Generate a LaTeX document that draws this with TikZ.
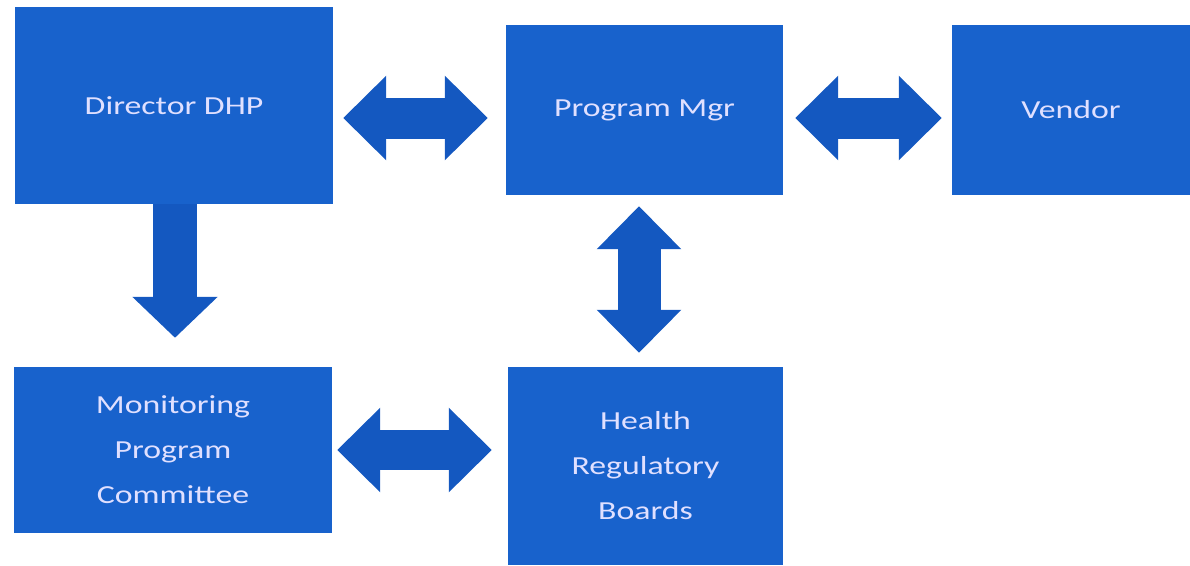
\documentclass[tikz,border=0pt]{standalone}
\usepackage{fontspec}
\setmainfont{Carlito}[FakeStretch=1.3]
\usetikzlibrary{arrows.meta}
\definecolor{boxblue}{RGB}{24,98,204}
\definecolor{arrowblue}{RGB}{20,88,192}
\begin{document}
\begin{tikzpicture}[x=1pt,y=-1pt]
		\tikzstyle{unit}=[rectangle,fill=boxblue,text=white!88!blue,align=center,inner sep=0pt,font=\fontsize{26}{45}\selectfont]
		\tikzstyle{link}=[draw=arrowblue,line width=41pt,{Triangle[length=43pt,width=82pt]}-{Triangle[length=43pt,width=82pt]}]
		\tikzstyle{flow}=[draw=arrowblue,line width=44pt,-{Triangle[length=41pt,width=83pt]}]
		\useasboundingbox (0,0) rectangle (1190,565);
		\node[unit,minimum width=318pt,minimum height=197pt] (director) at (174,105.5) {Director DHP};
		\node[unit,minimum width=277pt,minimum height=170pt] (mgr) at (644.5,110) {Program Mgr};
		\node[unit,minimum width=238pt,minimum height=170pt] (vendor) at (1071,110) {Vendor};
		\node[unit,minimum width=318pt,minimum height=166pt] (committee) at (173,450) {Monitoring\\Program\\Committee};
		\node[unit,minimum width=275pt,minimum height=198pt] (boards) at (645.5,466) {Health\\Regulatory\\Boards};
		\draw[link,shorten <=10pt,shorten >=18pt] ([yshift=-12.5pt]director.east) -- ([yshift=-8pt]mgr.west);
		\draw[link,shorten <=12pt,shorten >=10pt] ([yshift=-8pt]mgr.east) -- ([yshift=-8pt]vendor.west);
		\draw[flow,shorten >=29pt] ([xshift=1pt]director.south) -- ([xshift=2pt]committee.north);
		\draw[link,line width=43pt,shorten <=11pt,shorten >=14pt] ([xshift=-5.5pt]mgr.south) -- ([xshift=-6.5pt]boards.north);
		\draw[link,line width=40pt,shorten <=5pt,shorten >=16pt] (committee.east) -- ([yshift=16pt]boards.west);
	\end{tikzpicture}
\end{document}
